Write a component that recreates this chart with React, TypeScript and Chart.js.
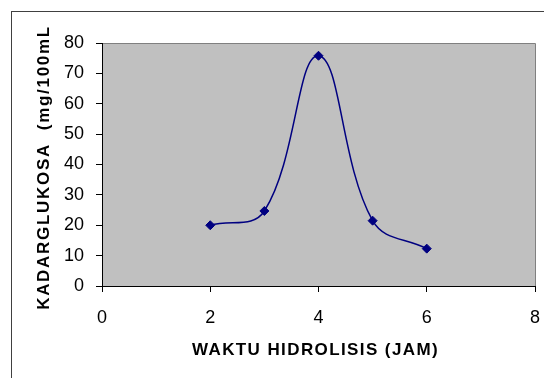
import React, { useEffect, useRef } from "react";
import { Chart, registerables } from "chart.js";

Chart.register(...registerables);

const hours = [2, 3, 4, 5, 6];
const glucose = [20, 24.7, 75.8, 21.5, 12.3];
const xTitle = "WAKTU HIDROLISIS (JAM)";
const yTitle = "KADARGLUKOSA  (mg/100mL";

const FONT = "'Liberation Sans', Arial, sans-serif";

const bgPlugin = {
  id: "excelBg",
  beforeDraw(chart: any) {
    const { ctx, chartArea } = chart;
    const { left, top, right, bottom } = chartArea;
    ctx.save();
    ctx.fillStyle = "#ffffff";
    ctx.fillRect(0, 0, chart.width, chart.height);
    ctx.strokeStyle = "#404040";
    ctx.lineWidth = 1;
    ctx.strokeRect(11.5, 11.5, chart.width + 20, chart.height + 20);
    ctx.fillStyle = "#C0C0C0";
    ctx.fillRect(left, top, right - left, bottom - top);
    ctx.strokeStyle = "#808080";
    ctx.beginPath();
    ctx.moveTo(left, top + 0.5);
    ctx.lineTo(right + 0.5, top + 0.5);
    ctx.lineTo(right + 0.5, bottom);
    ctx.stroke();
    ctx.restore();
  },
  afterDraw(chart: any) {
    const { ctx, chartArea } = chart;
    const { left, top, right, bottom } = chartArea;
    ctx.save();
    ctx.fillStyle = "#000";
    ctx.font = `bold 17px ${FONT}`;
    ctx.textAlign = "center";
    ctx.textBaseline = "middle";
    (ctx as any).letterSpacing = "1.4px";
    ctx.fillText(xTitle, (left + right) / 2 - 3, 350);
    ctx.restore();
    ctx.save();
    ctx.fillStyle = "#000";
    ctx.font = `bold 17px ${FONT}`;
    ctx.textAlign = "center";
    ctx.textBaseline = "middle";
    (ctx as any).letterSpacing = "1.7px";
    ctx.translate(44, (top + bottom) / 2 + 3);
    ctx.rotate(-Math.PI / 2);
    ctx.fillText(yTitle, 0, 0);
    ctx.restore();
  },
};

export default function App() {
  const ref = useRef<HTMLCanvasElement>(null);
  useEffect(() => {
    if (!ref.current) return;
    const chart = new Chart(ref.current, {
      type: "line",
      data: {
        datasets: [
          {
            data: hours.map((h, i) => ({ x: h, y: glucose[i] })),
            borderColor: "#000080",
            backgroundColor: "#000080",
            borderWidth: 1.5,
            tension: 0.4,
            pointStyle: "rectRot",
            pointRadius: 4.5,
            pointBorderWidth: 1,
            pointBackgroundColor: "#000080",
            pointBorderColor: "#000080",
            fill: false,
          },
        ],
      },
      plugins: [bgPlugin],
      options: {
        responsive: false,
        animation: false,
        layout: { padding: { left: 0, top: 43, right: 9, bottom: 0 } },
        plugins: { legend: { display: false }, tooltip: { enabled: false } },
        scales: {
          x: {
            type: "linear",
            min: 0,
            max: 8,
            ticks: { stepSize: 2, color: "#000", font: { family: FONT, size: 18 }, padding: 15 },
            grid: { drawOnChartArea: false, drawTicks: true, tickLength: 6, color: "#000" },
            border: { color: "#000", width: 1 },
            afterFit: (s: any) => {
              s.height = 92;
              s.paddingLeft = 0;
              s.paddingRight = 0;
            },
          },
          y: {
            type: "linear",
            min: 0,
            max: 80,
            ticks: { stepSize: 10, color: "#000", font: { family: FONT, size: 18 }, padding: 12 },
            grid: { drawOnChartArea: false, drawTicks: true, tickLength: 6, color: "#000" },
            border: { color: "#000", width: 1 },
            afterFit: (s: any) => {
              s.width = 102;
              s.paddingTop = 0;
              s.paddingBottom = 0;
            },
          },
        },
      },
    });
    return () => chart.destroy();
  }, []);
  return (
    <div style={{ position: "fixed", left: 0, top: 0, width: 544, height: 378, background: "#fff" }}>
      <canvas ref={ref} width={544} height={378} />
    </div>
  );
}
